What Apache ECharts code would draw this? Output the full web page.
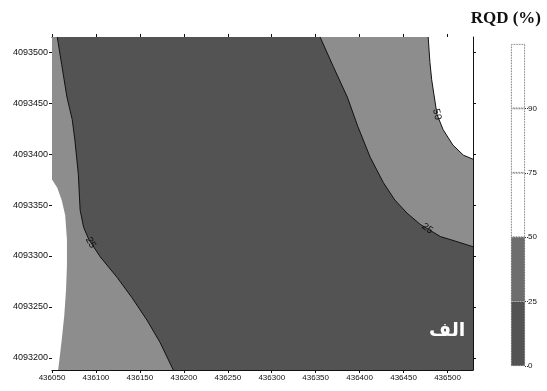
<!DOCTYPE html>
<html><head><meta charset="utf-8">
<script src="https://cdn.jsdelivr.net/npm/echarts@6/dist/echarts.min.js"></script>
<style>html,body{margin:0;padding:0;background:#fff}#c{width:547px;height:391px}</style>
</head><body><div id="c"></div>
<script>
// ---- axes ----
const xTicks = [436050,436100,436150,436200,436250,436300,436350,436400,436450,436500];
const yTicks = [4093200,4093250,4093300,4093350,4093400,4093450,4093500];
const xMin = 436050, xMax = 436529, yMin = 4093188, yMax = 4093515;

// ---- contour lines (x, y) ----
const contour25West = [[436056,4093515],[436061,4093488],[436067,4093456],[436073,4093434],[436076,4093414],[436080,4093380],[436082,4093345],[436086,4093328],[436092,4093316],[436105,4093299],[436124,4093279],[436141,4093259],[436158,4093237],[436173,4093215],[436188,4093188]];
const contour25East = [[436355,4093515],[436370,4093486],[436386,4093456],[436398,4093427],[436412,4093397],[436427,4093372],[436440,4093355],[436454,4093342],[436469,4093331],[436492,4093319],[436511,4093314],[436529,4093309]];
const contour50East = [[436478,4093515],[436480,4093490],[436482,4093473],[436488,4093439],[436495,4093424],[436506,4093409],[436518,4093399],[436529,4093395]];
const contour50West = [[436050,4093375],[436056,4093367],[436061,4093355],[436065,4093340],[436067,4093316],[436067,4093291],[436066,4093267],[436064,4093242],[436061,4093217],[436057,4093188]];

// ---- contour labels ----
const labelPos = [[436094,4093313],[436477,4093327],[436488,4093439]];
const labelText = ['25','25','50'];

// ---- colour classes ----
const classBreaks = [0,25,50,75,90,100];
const classLabels = [0,25,50,75,90];

const DARK = '#535353', MID = '#8d8d8d', WHITE = '#ffffff';
const classColors = [DARK, '#6e6e6e', WHITE, WHITE, WHITE];
const labelRot = [-1.05, -0.62, -1.35];

function polySeries(points, color) {
  return {
    type: 'custom', xAxisIndex: 0, yAxisIndex: 0, data: points, clip: true, silent: true,
    renderItem(params, api) {
      if (params.dataIndex !== 0) return null;
      return { type: 'polygon', shape: { points: points.map(p => api.coord(p)) }, style: { fill: color } };
    }
  };
}
function lineSeries(points) {
  return {
    type: 'custom', xAxisIndex: 0, yAxisIndex: 0, data: points, clip: true, silent: true,
    renderItem(params, api) {
      if (params.dataIndex !== 0) return null;
      return { type: 'polyline', shape: { points: points.map(p => api.coord(p)) }, style: { stroke: '#111', lineWidth: 1, fill: null } };
    }
  };
}

const extent = [[xMin,yMax],[xMax,yMax],[xMax,yMin],[xMin,yMin]];
const westMid = [[xMin,yMax]].concat(contour25West, [[xMin,yMin]]);
const eastMid = contour25East.concat([[xMax,yMax]]);
const eastWhite = contour50East.concat([[xMax,yMax]]);
const westWhite = contour50West.concat([[xMin,yMin]]);

const axisFont = 'Liberation Sans';
const plain = v => String(v);
const chart = echarts.init(document.getElementById('c'), null, { renderer: 'canvas' });
chart.setOption({
  animation: false,
  backgroundColor: '#fff',
  title: { text: 'RQD (%)', right: 1, top: 5, textStyle: { fontFamily: 'Liberation Serif', fontWeight: 'bold', fontSize: 17, color: '#111' } },
  graphic: [{ type: 'text', z: 100, zlevel: 1, left: 429, top: 322, style: { text: 'الف', fill: '#fff', font: 'bold 19px "DejaVu Sans"' } }],
  grid: [
    { left: 52, right: 74, top: 37, bottom: 21 },
    { left: 511, top: 44, width: 14, height: 322 }
  ],
  xAxis: [
    { type: 'value', gridIndex: 0, min: xMin, max: xMax, position: 'bottom',
      axisLine: { lineStyle: { color: '#111', width: 1 } },
      axisTick: { customValues: xTicks, length: 3, lineStyle: { color: '#111' } },
      axisLabel: { customValues: xTicks, formatter: plain, fontSize: 8, fontFamily: axisFont, color: '#111', margin: 4 },
      splitLine: { show: false } },
    { type: 'value', gridIndex: 0, min: xMin, max: xMax, position: 'top',
      axisLine: { lineStyle: { color: '#111', width: 1 } },
      axisTick: { customValues: xTicks, length: 3, lineStyle: { color: '#111' } },
      axisLabel: { show: false }, splitLine: { show: false } },
    { type: 'category', gridIndex: 1, data: ['RQD'], show: false }
  ],
  yAxis: [
    { type: 'value', gridIndex: 0, min: yMin, max: yMax, position: 'left',
      axisLine: { show: true, lineStyle: { color: '#111', width: 1 } },
      axisTick: { show: true, customValues: yTicks, length: 3, lineStyle: { color: '#111' } },
      axisLabel: { customValues: yTicks, formatter: plain, fontSize: 9, fontFamily: axisFont, color: '#111', margin: 4 },
      splitLine: { show: false } },
    { type: 'value', gridIndex: 0, min: yMin, max: yMax, position: 'right',
      axisLine: { show: true, lineStyle: { color: '#111', width: 1 } },
      axisTick: { show: true, customValues: yTicks, length: 3, lineStyle: { color: '#111' } },
      axisLabel: { show: false }, splitLine: { show: false } },
    { type: 'value', gridIndex: 1, min: 0, max: classLabels.length, position: 'right',
      axisLine: { show: false },
      axisTick: { show: true, customValues: classLabels.map((v, i) => i), length: 3, lineStyle: { color: '#333', type: 'dotted' } },
      axisLabel: { customValues: classLabels.map((v, i) => i), formatter: v => String(classLabels[v]), fontSize: 8, fontFamily: axisFont, color: '#111', margin: 3 },
      splitLine: { show: false } }
  ],
  series: [
    polySeries(extent, DARK),
    polySeries(westMid, MID),
    polySeries(eastMid, MID),
    polySeries(eastWhite, WHITE),
    polySeries(westWhite, WHITE),
    lineSeries(contour25West),
    lineSeries(contour25East),
    lineSeries(contour50East),
    {
      type: 'custom', xAxisIndex: 0, yAxisIndex: 0, data: labelPos, silent: true,
      renderItem(params, api) {
        const p = api.coord(labelPos[params.dataIndex]);
        return { type: 'text', x: p[0], y: p[1], rotation: labelRot[params.dataIndex],
          style: { text: labelText[params.dataIndex], fill: '#111', fontSize: 10, fontFamily: axisFont, align: 'center', verticalAlign: 'middle' } };
      }
    }
  ].concat(classColors.map((c, i) => ({
    type: 'bar', xAxisIndex: 2, yAxisIndex: 2, stack: 'cb', barWidth: '100%', silent: true,
    data: [(classBreaks[i + 1] - classBreaks[i]) > 0 ? 1 : 0],
    itemStyle: { color: c, borderColor: '#444', borderWidth: 0.8, borderType: 'dotted' }
  })))
});
</script></body></html>
